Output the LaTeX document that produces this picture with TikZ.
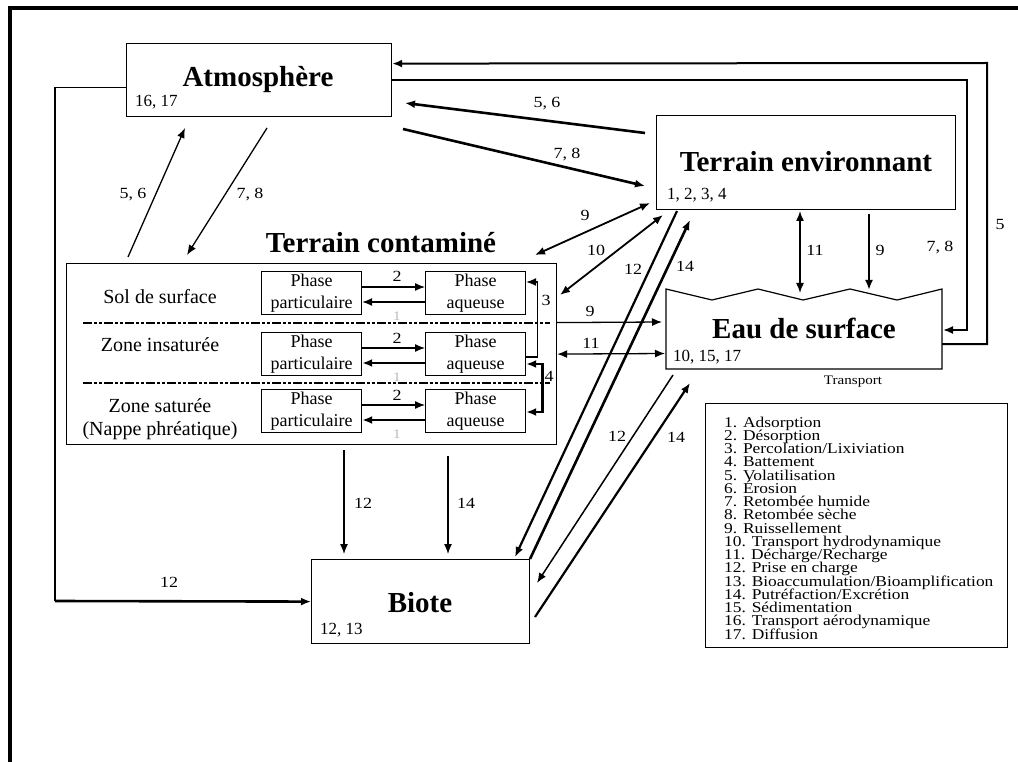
\documentclass[tikz,border=0pt]{standalone}
\usepackage{fontspec}
\setmainfont{Liberation Serif}
\newfontfamily\widefont{Liberation Serif}[FakeStretch=1.16]
\usetikzlibrary{arrows.meta}

\begin{document}
\begin{tikzpicture}[x=1pt,y=-1pt,>={Latex[length=10pt,width=8pt]},
    box/.style={draw,line width=1.2pt,inner sep=0pt,anchor=north west},
    title/.style={font=\bfseries\fontsize{29}{32}\selectfont,anchor=base,inner sep=0pt},
    numlab/.style={font=\fontsize{17}{20}\selectfont,anchor=base west,inner sep=0pt},
    arrlab/.style={font=\widefont\fontsize{15.5}{18}\selectfont,inner sep=0pt},
    zone/.style={font=\fontsize{20}{23}\selectfont,anchor=base,inner sep=0pt},
    phase/.style={box,minimum width=100pt,minimum height=43pt,align=center,font=\fontsize{18}{22}\selectfont},
    flow/.style={line width=1.3pt},
    midflow/.style={line width=1.8pt},
    bigflow/.style={line width=2.6pt},
    zonesep/.style={line width=1.8pt,dash pattern=on 9pt off 2pt on 3pt off 2pt on 3pt off 2pt}]
    \useasboundingbox (0,0) rectangle (1018,762);

    % draw the frame
    \draw[line width=4pt] (10,762) -- (10,8) -- (1018,8);

    % Atmosphere
    \node[box,minimum width=265pt,minimum height=73pt] (atmo) at (126,43) {};
    \node[title] (atmot) at (258,87) {Atmosphère};
    \node[numlab] (atmon) at (135,107) {16, 17};

    % Terrain environnant
    \node[box,minimum width=299pt,minimum height=94pt] (terenv) at (656,115) {};
    \node[title] (terenvt) at (806,172) {Terrain environnant};
    \node[numlab] (terenvn) at (667,200) {1, 2, 3, 4};

    % Eau de surface (wavy top)
    \draw[line width=1.2pt] (666,289) -- (712,300) -- (758,289) -- (803,300) -- (850,289)
        -- (897,300) -- (942,289) -- (942,369) -- (666,369) -- cycle;
    \node[title] (eau) at (804,338) {Eau de surface};
    \node[numlab] (eaun) at (673,361) {10, 15, 17};

    % Biote
    \node[box,minimum width=218pt,minimum height=84pt] (biote) at (311,559) {};
    \node[title] (biotet) at (420,612) {Biote};
    \node[numlab] (bioten) at (320,634) {12, 13};

    % Terrain contamine
    \node[box,minimum width=490pt,minimum height=181pt] (tercont) at (66,263) {};
    \node[title] (tercontt) at (381,253) {Terrain contaminé};
    \node[zone] (zsol) at (160,303) {Sol de surface};
    \node[zone] (zins) at (160,352) {Zone insaturée};
    \node[zone] (zsat) at (160,412) {Zone saturée};
    \node[zone] (znap) at (160,435) {(Nappe phréatique)};
    \draw[zonesep] (83,323) -- (550,323);
    \draw[zonesep] (83,383) -- (550,383);

    % phases, one row per zone
    \foreach \y/\w [count=\i] in {271/1.3, 332/2.6, 389/2.6} {
        \node[phase] (pp\i) at (261,\y) {Phase\\particulaire};
        \node[phase] (pa\i) at (425,\y) {Phase\\aqueuse};
        \draw[flow,->] ([yshift=-16pt]pp\i.north east) -- ([yshift=-16pt]pa\i.north west);
        \draw[line width=\w pt,->] ([yshift=-31pt]pa\i.north west) -- ([yshift=-31pt]pp\i.north east);
        \node[arrlab,anchor=base] (deux\i) at (397,\y+11) {2};
        \node[arrlab,anchor=base,text=gray!55,font=\widefont\fontsize{13}{15}\selectfont] (un\i) at (397,\y+49) {1};
    }
    \draw[flow,->] ([yshift=-25pt]pa2.north east) -- ++(11,0) |- ([yshift=-11pt]pa1.north east);
    \draw[bigflow,<->] ([yshift=-32pt]pa2.north east) -- ++(16,0) |- ([yshift=-23pt]pa3.north east);
    \node[arrlab] (perc) at (546,300) {3};
    \node[arrlab] (batt) at (549,376) {4};

    % free ends of the connectors
    \coordinate (tcA) at (128,257);   \coordinate (atA) at (185,128);
    \coordinate (atB) at (267,128);   \coordinate (tcB) at (187,255);
    \coordinate (teC) at (645,133);   \coordinate (atC) at (405,103);
    \coordinate (atD) at (403,129);   \coordinate (teD) at (645,186);
    \coordinate (tcG) at (535,255);   \coordinate (teG) at (650,203);
    \coordinate (tcH) at (560,295);   \coordinate (teH) at (663,215);
    \coordinate (euI) at (662,322);   \coordinate (euJ) at (665,353.5);
    \coordinate (teK) at (677,211);   \coordinate (biK) at (515,557);
    \coordinate (biL) at (530,559);   \coordinate (teL) at (690,220);
    \coordinate (euM) at (673,375);   \coordinate (biM) at (537,583);
    \coordinate (biN) at (535,617);   \coordinate (euN) at (690,383);
    \coordinate (teO) at (800,211);   \coordinate (euO) at (800,293);
    \coordinate (teP) at (869,214);   \coordinate (euP) at (869,290);
    \coordinate (tcQ) at (344,450);   \coordinate (biQ) at (344,554);
    \coordinate (tcR) at (448,456);   \coordinate (biR) at (448,554);
    \coordinate (euS) at (942,344);   \coordinate (euT) at (943,330);
    \coordinate (drop) at (55,601);

    % atmosphere exchanges
    \draw[flow,->] (tcA) -- (atA);
    \draw[flow,->] (atB) -- (tcB);
    \draw[bigflow,->] (teC) -- (atC);
    \draw[bigflow,->] (atD) -- (teD);
    \draw[line width=2pt,->] (euS) -| (987,63) -- ([yshift=16.5pt]atmo.east);
    \draw[midflow,->] (atmo.east) -| (967,330) -- (euT);
    \draw[flow] ([yshift=-7.5pt]atmo.west) -| (drop);
    \draw[bigflow,->] (drop) -- (biote.west);
    \node[arrlab] (l56a) at (133,195) {5, 6};
    \node[arrlab] (l78a) at (250,195) {7, 8};
    \node[arrlab] (l56b) at (547,104) {5, 6};
    \node[arrlab] (l78b) at (567,155) {7, 8};
    \node[arrlab] (l5) at (1000,225) {5};
    \node[arrlab] (l78c) at (940,248) {7, 8};
    \node[arrlab] (l12a) at (169,582) {12};

    % terrain contamine exchanges
    \draw[midflow,<->] (tcG) -- (teG);
    \draw[midflow,<->] (tcH) -- (teH);
    \draw[flow,->] ([yshift=31.5pt]tercont.east) -- (euI);
    \draw[flow,<->] (tercont.east) -- (euJ);
    \draw[flow,->] (tcQ) -- (biQ);
    \draw[flow,->] (tcR) -- (biR);
    \node[arrlab] (l9a) at (585,215) {9};
    \node[arrlab] (l10) at (596,250) {10};
    \node[arrlab] (l9b) at (590,311) {9};
    \node[arrlab] (l11a) at (591,343) {11};
    \node[arrlab] (l12b) at (363,503) {12};
    \node[arrlab] (l14b) at (466,503) {14};

    % terrain environnant and eau de surface exchanges
    \draw[line width=2.2pt,->] (teK) -- (biK);
    \draw[bigflow,->] (biL) -- (teL);
    \draw[line width=1.5pt,->] (euM) -- (biM);
    \draw[line width=2.2pt,->] (biN) -- (euN);
    \draw[line width=1.5pt,<->] (teO) -- (euO);
    \draw[line width=2.2pt,->] (teP) -- (euP);
    \node[arrlab] (l12c) at (633,269) {12};
    \node[arrlab] (l14c) at (685,266) {14};
    \node[arrlab] (l12d) at (617,436) {12};
    \node[arrlab] (l14d) at (676,437) {14};
    \node[arrlab] (l11b) at (815,250) {11};
    \node[arrlab] (l9c) at (880,250) {9};

    % legend
    \node[font=\widefont\fontsize{13}{15}\selectfont] (legt) at (853,382) {Transport};
    \node[box,minimum width=302pt,minimum height=244pt] (legend) at (705,403) {};
    \foreach \txt [count=\i] in {Adsorption, Désorption, Percolation/Lixiviation, Battement,
        Volatilisation, Érosion, Retombée humide, Retombée sèche, Ruissellement,
        Transport hydrodynamique, Décharge/Recharge, Prise en charge,
        Bioaccumulation/Bioamplification, Putréfaction/Excrétion, Sédimentation,
        Transport aérodynamique, Diffusion}
        \node[font=\widefont\fontsize{15}{17}\selectfont,anchor=base west,inner sep=0pt] (leg\i)
            at (724,{427+13.25*(\i-1)}) {\i. \txt};
\end{tikzpicture}
\end{document}
